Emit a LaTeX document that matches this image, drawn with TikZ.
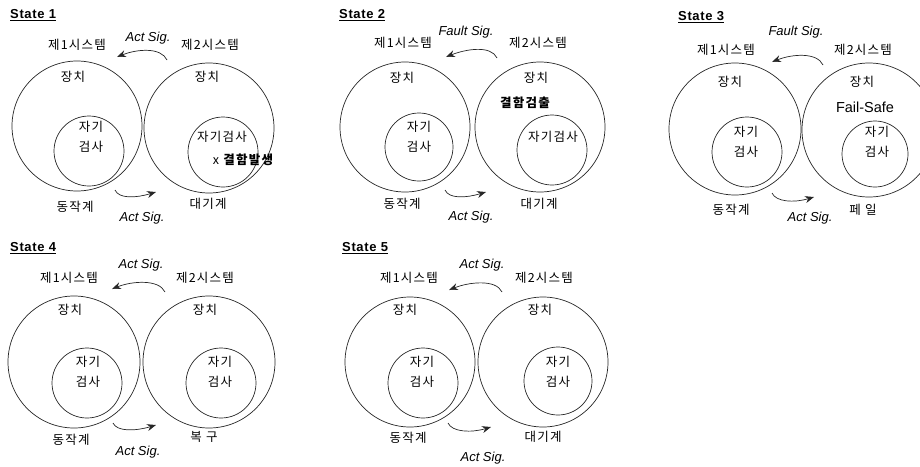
\documentclass[tikz,border=0pt]{standalone}
\usepackage{fontspec}
\setmainfont{Liberation Sans}
\newfontfamily\krfont[LetterSpace=10]{Noto Sans CJK KR}
\usetikzlibrary{arrows.meta}
\begin{document}
\begin{tikzpicture}[x=1pt,y=-1pt,
  kr/.style={font=\krfont\fontsize{12.5}{19.5}\selectfont, inner sep=0pt, align=center},
  sig/.style={font=\itshape\fontsize{13}{15}\selectfont, inner sep=0pt},
  fs/.style={font=\fontsize{14.5}{16}\selectfont, inner sep=0pt},
  ttl/.style={font=\bfseries\addfontfeature{LetterSpace=5}\fontsize{13}{15}\selectfont, anchor=west, inner sep=0pt},
  circ/.style={circle, draw=black!85, line width=0.7pt, inner sep=0pt},
  arr/.style={draw=black!85, line width=0.7pt, -{Stealth[length=9pt,width=7pt]}}]
\useasboundingbox (0,0) rectangle (920,466);

% ---------------- State 1 ----------------
\node[ttl] (t1) at (10,15) {\underline{State 1}};
\node[circ, minimum size=130pt] (s1lo) at (77,126) {};
\node[circ, minimum size=70pt] (s1li) at (89,151) {};
\node[circ, minimum size=130pt] (s1ro) at (209,128) {};
\node[circ, minimum size=70pt] (s1ri) at (223,152) {};
\node[kr] (s1n1) at (77,45) {제1시스템};
\node[kr] (s1n2) at (210,45) {제2시스템};
\node[sig] (s1st) at (148,38) {Act Sig.};
\node[kr] (s1d1) at (73,77) {장치};
\node[kr] (s1d2) at (207,77) {장치};
\node[kr] (s1c1) at (91,137) {자기\\검사};
\node[kr] (s1c2) at (222,137) {자기검사};
\node[kr] (s1f) at (243,160) {x {\bfseries 결함발생}};
\node[kr] (s1m1) at (75,207) {동작계};
\node[kr] (s1m2) at (208,204) {대기계};
\node[sig] (s1sb) at (142,218) {Act Sig.};
\coordinate (s1ta) at (167,60); \coordinate (s1tb) at (117,57);
\coordinate (s1ba) at (115,190); \coordinate (s1bb) at (156,192);
\draw[arr] (s1ta) .. controls +(-6,-13) and +(20,-8) .. (s1tb);
\draw[arr] (s1ba) .. controls +(4,9) and +(-20,6) .. (s1bb);

% ---------------- State 2 ----------------
\node[ttl] (t2) at (339,15) {\underline{State 2}};
\node[circ, minimum size=130pt] (s2lo) at (405,127) {};
\node[circ, minimum size=68pt] (s2li) at (419,147) {};
\node[circ, minimum size=130pt] (s2ro) at (540,127) {};
\node[circ, minimum size=70pt] (s2ri) at (552,150) {};
\node[kr] (s2n1) at (403,43) {제1시스템};
\node[kr] (s2n2) at (538,43) {제2시스템};
\node[sig] (s2st) at (466,32) {Fault Sig.};
\node[kr] (s2d1) at (402,78) {장치};
\node[kr] (s2d2) at (536,78) {장치};
\node[kr] (s2f) at (525,103) {\bfseries 결함검출};
\node[kr] (s2c1) at (419,137) {자기\\검사};
\node[kr] (s2c2) at (553,137) {자기검사};
\node[kr] (s2m1) at (402,204) {동작계};
\node[kr] (s2m2) at (539,204) {대기계};
\node[sig] (s2sb) at (471,217) {Act Sig.};
\coordinate (s2ta) at (497,58); \coordinate (s2tb) at (446,57);
\coordinate (s2ba) at (445,190); \coordinate (s2bb) at (486,192);
\draw[arr] (s2ta) .. controls +(-6,-13) and +(20,-8) .. (s2tb);
\draw[arr] (s2ba) .. controls +(4,9) and +(-20,6) .. (s2bb);

% ---------------- State 3 ----------------
\node[ttl] (t3) at (678,17) {\underline{State 3}};
\node[circ, minimum size=132pt] (s3lo) at (735,129) {};
\node[circ, minimum size=70pt] (s3li) at (747,152) {};
\node[circ, minimum size=134pt] (s3ro) at (869,130) {};
\node[circ, minimum size=66pt] (s3ri) at (875,154) {};
\node[kr] (s3n1) at (726,50) {제1시스템};
\node[kr] (s3n2) at (863,50) {제2시스템};
\node[sig] (s3st) at (796,32) {Fault Sig.};
\node[kr] (s3d1) at (730,82) {장치};
\node[kr] (s3d2) at (862,82) {장치};
\node[fs] (s3f) at (865,107) {Fail-Safe};
\node[kr] (s3c1) at (746,142) {자기\\검사};
\node[kr] (s3c2) at (877,142) {자기\\검사};
\node[kr] (s3m1) at (731,210) {동작계};
\node[kr] (s3m2) at (863,210) {페 일};
\node[sig] (s3sb) at (810,218) {Act Sig.};
\coordinate (s3ta) at (823,65); \coordinate (s3tb) at (772,62);
\coordinate (s3ba) at (772,193); \coordinate (s3bb) at (814,197);
\draw[arr] (s3ta) .. controls +(-6,-13) and +(20,-8) .. (s3tb);
\draw[arr] (s3ba) .. controls +(4,9) and +(-20,6) .. (s3bb);

% ---------------- State 4 ----------------
\node[ttl] (t4) at (10,248) {\underline{State 4}};
\node[circ, minimum size=132pt] (s4lo) at (74,362) {};
\node[circ, minimum size=70pt] (s4li) at (87,383) {};
\node[circ, minimum size=132pt] (s4ro) at (209,362) {};
\node[circ, minimum size=70pt] (s4ri) at (221,383) {};
\node[kr] (s4n1) at (69,278) {제1시스템};
\node[kr] (s4n2) at (205,278) {제2시스템};
\node[sig] (s4st) at (141,265) {Act Sig.};
\node[kr] (s4d1) at (70,310) {장치};
\node[kr] (s4d2) at (205,310) {장치};
\node[kr] (s4c1) at (88,372) {자기\\검사};
\node[kr] (s4c2) at (220,372) {자기\\검사};
\node[kr] (s4m1) at (71,440) {동작계};
\node[kr] (s4m2) at (204,437) {복 구};
\node[sig] (s4sb) at (138,452) {Act Sig.};
\coordinate (s4ta) at (165,292); \coordinate (s4tb) at (112,289);
\coordinate (s4ba) at (113,423); \coordinate (s4bb) at (156,425);
\draw[arr] (s4ta) .. controls +(-6,-13) and +(20,-8) .. (s4tb);
\draw[arr] (s4ba) .. controls +(4,9) and +(-20,6) .. (s4bb);

% ---------------- State 5 ----------------
\node[ttl] (t5) at (342,248) {\underline{State 5}};
\node[circ, minimum size=130pt] (s5lo) at (410,362) {};
\node[circ, minimum size=70pt] (s5li) at (423,383) {};
\node[circ, minimum size=130pt] (s5ro) at (543,362) {};
\node[circ, minimum size=68pt] (s5ri) at (558,381) {};
\node[kr] (s5n1) at (409,278) {제1시스템};
\node[kr] (s5n2) at (544,278) {제2시스템};
\node[sig] (s5st) at (482,265) {Act Sig.};
\node[kr] (s5d1) at (405,310) {장치};
\node[kr] (s5d2) at (540,310) {장치};
\node[kr] (s5c1) at (422,372) {자기\\검사};
\node[kr] (s5c2) at (558,372) {자기\\검사};
\node[kr] (s5m1) at (408,438) {동작계};
\node[kr] (s5m2) at (543,437) {대기계};
\node[sig] (s5sb) at (483,458) {Act Sig.};
\coordinate (s5ta) at (502,292); \coordinate (s5tb) at (449,290);
\coordinate (s5ba) at (448,423); \coordinate (s5bb) at (491,427);
\draw[arr] (s5ta) .. controls +(-6,-13) and +(20,-8) .. (s5tb);
\draw[arr] (s5ba) .. controls +(4,9) and +(-20,6) .. (s5bb);
\end{tikzpicture}
\end{document}
